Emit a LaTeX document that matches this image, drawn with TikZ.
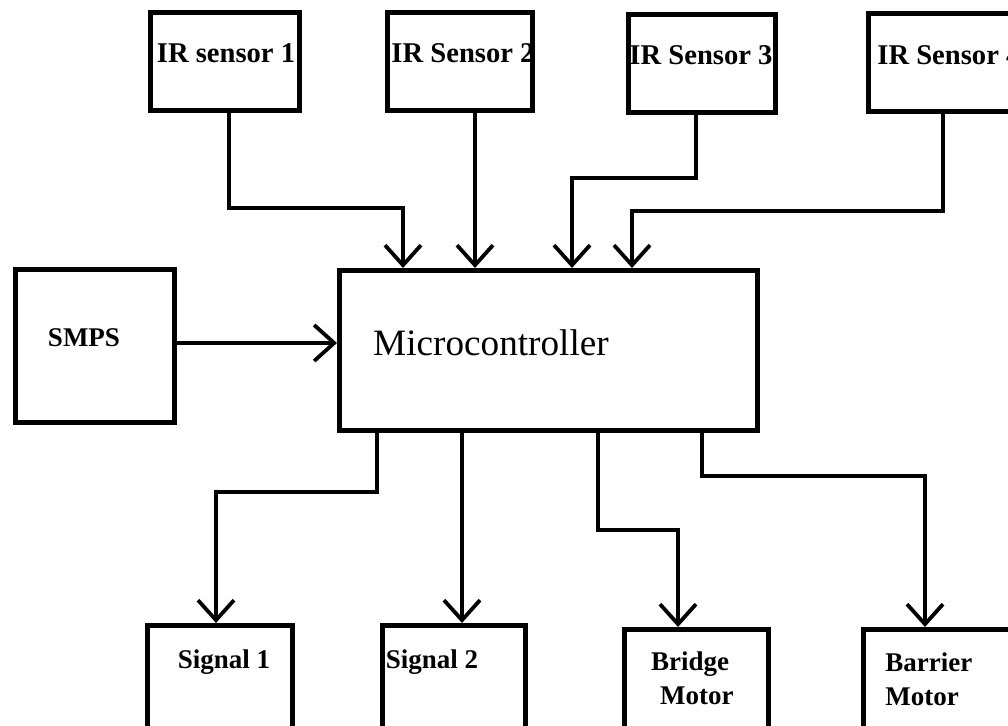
\documentclass[tikz,border=0pt]{standalone}
\usepackage{fontspec}
\setmainfont{Liberation Serif}
\usetikzlibrary{arrows.meta}
\tikzset{
  blk/.style={draw,line width=2.5pt,minimum width=#1,minimum height=49pt,inner sep=0pt},
  blk/.default=74pt,
  conn/.style={line width=1.9pt,-{Straight Barb[length=10pt,width=18pt,line width=1.9pt]}},
  lbl/.style={font=\fontsize{13.5}{17}\selectfont\bfseries,inner sep=0pt},
  irlbl/.style={font=\fontsize{14.3}{17}\selectfont\bfseries,inner sep=0pt}
}
\begin{document}
\begin{tikzpicture}[x=0.5pt,y=-0.5pt]
\useasboundingbox (0,0) rectangle (1008,726);
\clip (0,0) rectangle (1008,726);
% sensors
\node (ir1) [blk=74.5pt] at (225,61.5) {};
\node (ir2) [blk=72.5pt] at (460,61.5) {};
\node (ir3) [blk=73.5pt] at (702,64) {};
\node (ir4) [blk=75pt] at (943,63) {};
\node (t1) [irlbl] at (226,53) {IR sensor 1};
\node (t2) [irlbl] at (463,53) {IR Sensor 2};
\node (t3) [irlbl] at (701,55) {IR Sensor 3};
\node (t4) [irlbl,anchor=west] at (877,55) {IR Sensor 4};
% supply and controller
\node (smps) [blk=79.5pt,minimum height=76.5pt] at (95,346) {};
\node (mc) [blk=209pt,minimum height=80pt] at (548.5,350.5) {};
\node (ts) [lbl] at (84,338) {SMPS};
\node (tm) [font=\fontsize{18.6}{22}\selectfont,inner sep=0pt] at (491,343) {Microcontroller};
% outputs
\node (sig1) [blk=72.5pt,minimum height=52.5pt] at (220,678) {};
\node (sig2) [blk=71.5pt,minimum height=52.5pt] at (454,678) {};
\node (brm) [blk=72pt,minimum height=52.5pt] at (696.5,682) {};
\node (bam) [blk=75pt,minimum height=52.5pt] at (938,682) {};
\node (ts1) [lbl] at (224,662) {Signal 1};
\node (ts2) [lbl] at (432,662) {Signal 2};
\node (tbr) [lbl,align=center] at (690,678) {Bridge\\ \ \ Motor};
\node (tba) [lbl,align=left,anchor=west] at (885,679) {Barrier\\Motor};
% inputs
\draw [conn] (ir1.south -| 229,0) |- (403,208) -- (mc.north -| 403,0);
\draw [conn] (ir2.south -| 475,0) -- (mc.north -| 475,0);
\draw [conn] (ir3.south -| 696,0) |- (572,178) -- (mc.north -| 572,0);
\draw [conn] (ir4.south -| 943,0) |- (632,211) -- (mc.north -| 632,0);
\draw [conn] (smps.east |- 0,343) -- (mc.west |- 0,343);
% outputs
\draw [conn] (mc.south -| 377,0) |- (216,492) -- (sig1.north -| 216,0);
\draw [conn] (mc.south -| 462,0) -- (sig2.north -| 462,0);
\draw [conn] (mc.south -| 598,0) |- (678,530) -- (brm.north -| 678,0);
\draw [conn] (mc.south -| 702,0) |- (925,476) -- (bam.north -| 925,0);
\end{tikzpicture}
\end{document}
